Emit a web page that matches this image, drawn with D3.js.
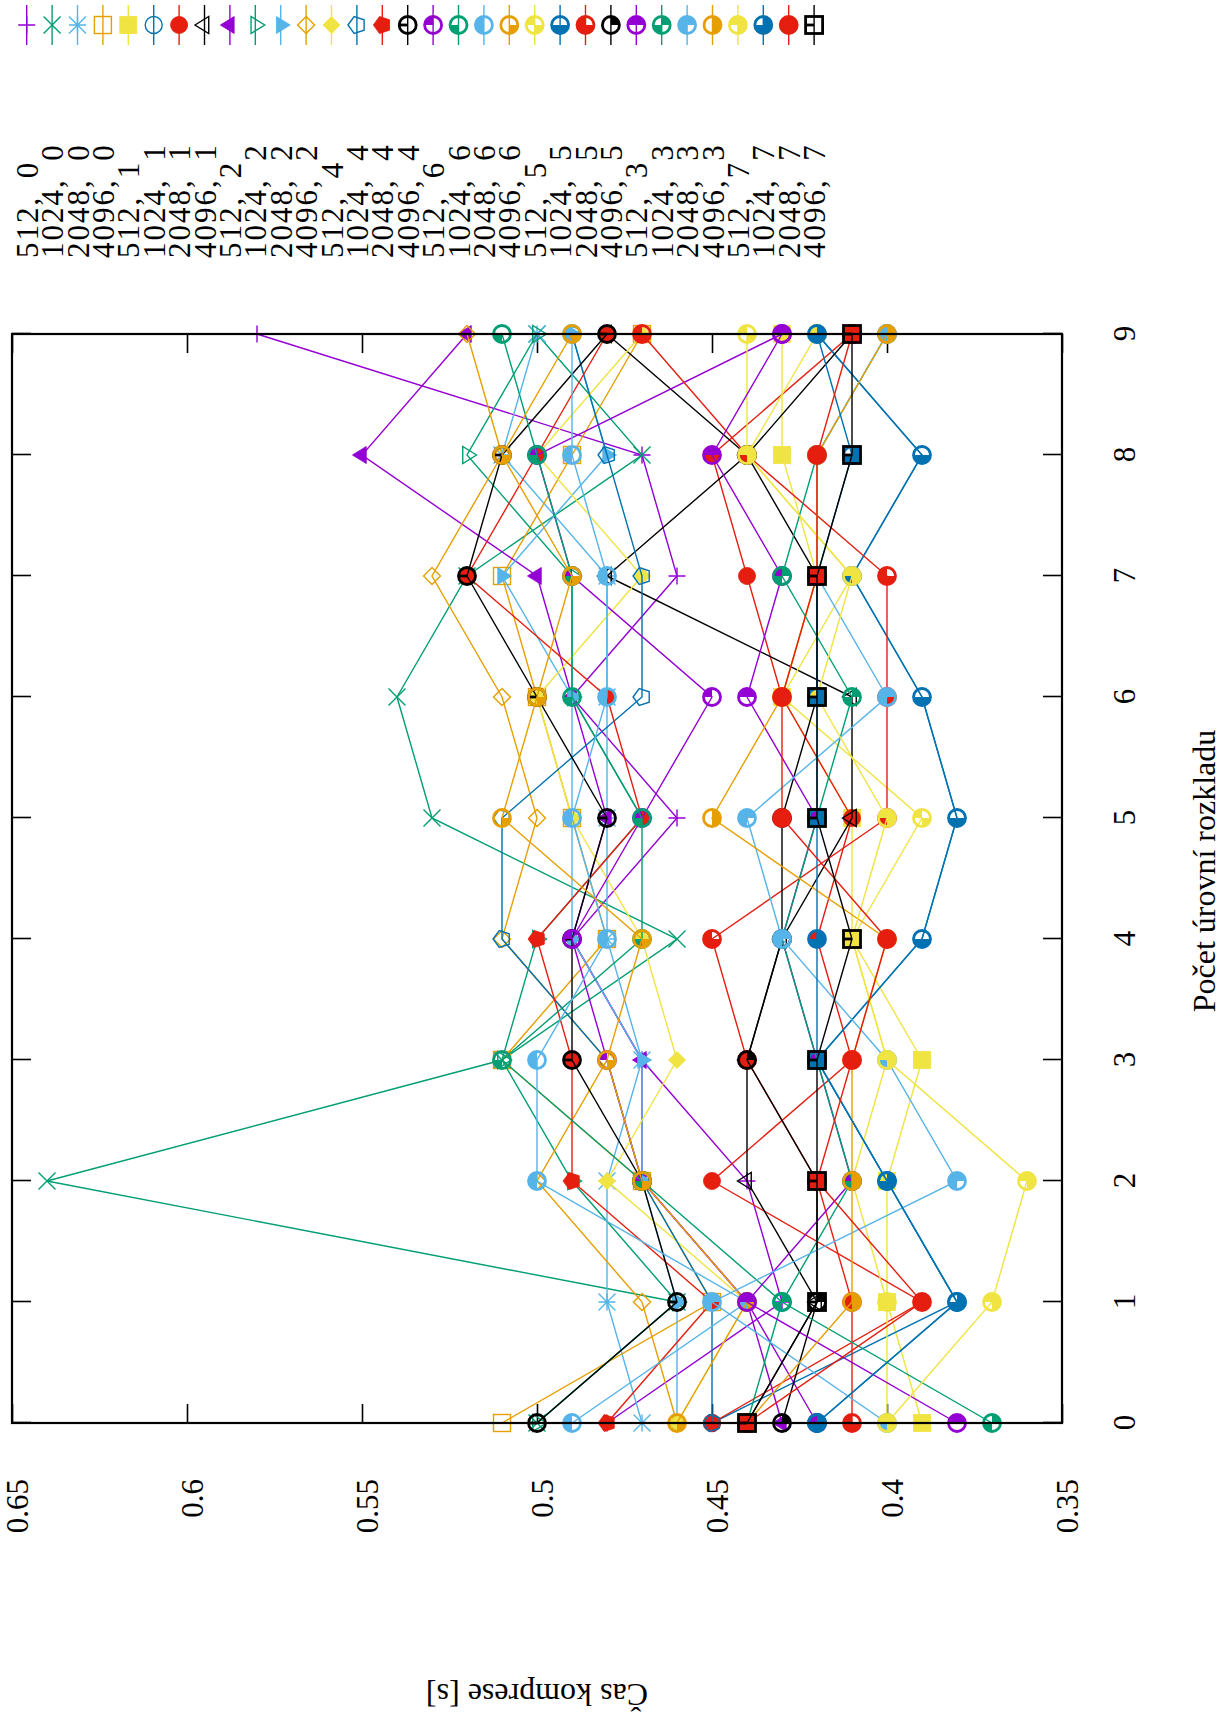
<!DOCTYPE html>
<html><head><meta charset="utf-8">
<script src="https://cdn.jsdelivr.net/npm/d3@7"></script>
<style>
body{margin:0;background:#fff}
svg{display:block}
text{font-family:"Liberation Serif","DejaVu Serif",serif;fill:#000}
</style>
</head><body>
<script>
// ---------- data ----------
const levels = [0,1,2,3,4,5,6,7,8,9];
const yTicks = [0.35,0.4,0.45,0.5,0.55,0.6,0.65];
const seriesNames = ["512, 0","1024, 0","2048, 0","4096, 0","512, 1","1024, 1","2048, 1","4096, 1",
  "512, 2","1024, 2","2048, 2","4096, 2","512, 4","1024, 4","2048, 4","4096, 4",
  "512, 6","1024, 6","2048, 6","4096, 6","512, 5","1024, 5","2048, 5","4096, 5",
  "512, 3","1024, 3","2048, 3","4096, 3","512, 7","1024, 7","2048, 7","4096, 7"];
const t512_0  = [0.48,0.43,0.44,0.47,0.49,0.46,0.49,0.46,0.47,0.58];
const t1024_0 = [0.50,0.46,0.64,0.51,0.46,0.53,0.54,0.52,0.47,0.50];
const t2048_0 = [0.47,0.48,0.48,0.47,0.48,0.48,0.48,0.48,0.51,0.50];
const t4096_0 = [0.51,0.45,0.47,0.51,0.48,0.49,0.50,0.51,0.49,0.47];
const t512_1  = [0.39,0.40,0.40,0.39,0.41,0.41,0.43,0.42,0.43,0.43];
const t1024_1 = [0.45,0.38,0.40,0.42,0.39,0.38,0.39,0.41,0.39,0.42];
const t2048_1 = [0.45,0.39,0.45,0.41,0.42,0.41,0.43,0.44,0.45,0.41];
const t4096_1 = [0.44,0.42,0.44,0.44,0.43,0.41,0.41,0.48,0.44,0.48];
const t512_2  = [0.43,0.44,0.47,0.47,0.49,0.48,0.49,0.50,0.55,0.52];
const t1024_2 = [0.50,0.46,0.49,0.51,0.50,0.47,0.49,0.49,0.52,0.50];
const t2048_2 = [0.46,0.46,0.47,0.47,0.49,0.49,0.49,0.51,0.48,0.49];
const t4096_2 = [0.46,0.47,0.50,0.48,0.51,0.50,0.51,0.53,0.51,0.52];
const t512_4  = [0.46,0.44,0.48,0.46,0.47,0.49,0.50,0.47,0.50,0.47];
const t1024_4 = [0.45,0.45,0.47,0.48,0.51,0.51,0.47,0.47,0.48,0.49];
const t2048_4 = [0.48,0.45,0.49,0.49,0.50,0.47,0.48,0.52,0.50,0.48];
const t4096_4 = [0.50,0.46,0.47,0.49,0.49,0.48,0.50,0.52,0.51,0.48];
const t512_6  = [0.42,0.44,0.47,0.48,0.49,0.47,0.45,0.49,0.50,0.43];
const t1024_6 = [0.44,0.43,0.47,0.51,0.47,0.47,0.49,0.49,0.50,0.51];
const t2048_6 = [0.49,0.44,0.50,0.50,0.48,0.49,0.48,0.48,0.49,0.49];
const t4096_6 = [0.46,0.44,0.47,0.48,0.47,0.51,0.50,0.49,0.51,0.49];
const t512_5  = [0.40,0.40,0.41,0.40,0.41,0.39,0.43,0.41,0.44,0.44];
const t1024_5 = [0.42,0.38,0.40,0.42,0.39,0.38,0.39,0.41,0.39,0.42];
const t2048_5 = [0.41,0.41,0.42,0.44,0.45,0.40,0.40,0.40,0.44,0.47];
const t4096_5 = [0.43,0.42,0.42,0.44,0.43,0.43,0.42,0.42,0.44,0.41];
const t512_3  = [0.38,0.44,0.41,0.42,0.43,0.42,0.44,0.43,0.45,0.43];
const t1024_3 = [0.37,0.43,0.41,0.42,0.43,0.42,0.41,0.43,0.42,0.40];
const t2048_3 = [0.40,0.45,0.38,0.40,0.43,0.44,0.40,0.42,0.42,0.40];
const t4096_3 = [0.44,0.41,0.41,0.41,0.40,0.45,0.43,0.42,0.42,0.40];
const t512_7  = [0.40,0.37,0.36,0.40,0.41,0.40,0.42,0.41,0.44,0.42];
const t1024_7 = [0.42,0.38,0.40,0.42,0.42,0.42,0.42,0.42,0.41,0.42];
const t2048_7 = [0.44,0.39,0.42,0.41,0.40,0.43,0.43,0.42,0.42,0.41];
const t4096_7 = [0.44,0.42,0.42,0.42,0.41,0.42,0.42,0.42,0.41,0.41];
const seriesValues = [t512_0,t1024_0,t2048_0,t4096_0,t512_1,t1024_1,t2048_1,t4096_1,
  t512_2,t1024_2,t2048_2,t4096_2,t512_4,t1024_4,t2048_4,t4096_4,
  t512_6,t1024_6,t2048_6,t4096_6,t512_5,t1024_5,t2048_5,t4096_5,
  t512_3,t1024_3,t2048_3,t4096_3,t512_7,t1024_7,t2048_7,t4096_7];
const palette = ["#9400D3","#009E73","#56B4E9","#E69F00","#F0E442","#0072B2","#E51E10","#000000"];

// ---------- layout (drawn in landscape, rotated -90deg) ----------
const W = 1223, H = 1724;
const FS = 32, TFS = 31, LW = 1.4, HP = 8.5;
const svg = d3.select("body").append("svg").attr("width", W).attr("height", H);
const g = svg.append("g").attr("transform", `translate(0,${H}) rotate(-90)`);

const x = d3.scaleLinear().domain([0, 9]).range([301, 1390]);
const y = d3.scaleLinear().domain([0.35, 0.65]).range([1062, 12]);

// axes
const axL = g.append("g").attr("transform", `translate(${x.range()[0]},0)`)
  .call(d3.axisLeft(y).tickValues(yTicks).tickFormat(d => String(d)).tickSizeInner(-19).tickSizeOuter(0).tickPadding(56));
const axR = g.append("g").attr("transform", `translate(${x.range()[1]},0)`)
  .call(d3.axisRight(y).tickValues(yTicks).tickFormat("").tickSizeInner(-19).tickSizeOuter(0));
const axB = g.append("g").attr("transform", `translate(0,${y.range()[0]})`)
  .call(d3.axisBottom(x).tickValues(levels).tickFormat(d => String(d)).tickSizeInner(-19).tickSizeOuter(0).tickPadding(51));
const axT = g.append("g").attr("transform", `translate(0,${y.range()[1]})`)
  .call(d3.axisTop(x).tickValues(levels).tickFormat("").tickSizeInner(-19).tickSizeOuter(0));
[axL, axR, axB, axT].forEach(a => {
  a.select(".domain").remove();
  a.selectAll(".tick line").attr("stroke", "#000").attr("stroke-width", 1.6);
  a.selectAll("text").attr("font-size", TFS).attr("font-family", "Liberation Serif");
});
axL.selectAll(".tick text").attr("y", 6);

// axis titles
g.append("text").attr("x", 853).attr("y", 1215).attr("text-anchor", "middle")
  .attr("font-size", FS).text("Počet úrovní rozkladu");
g.append("text").attr("transform", "translate(40,537) rotate(-90)").attr("text-anchor", "middle")
  .attr("font-size", FS).text("Čas komprese [s]");

// ---------- markers ----------
const arcQ = d3.arc().innerRadius(0).outerRadius(HP);
const quads = [[0, Math.PI/2], [3*Math.PI/2, 2*Math.PI], [Math.PI, 3*Math.PI/2], [Math.PI/2, Math.PI]];
function pent(r) {
  const p = [];
  for (let k = 0; k < 5; k++) { const a = -Math.PI/2 + k*2*Math.PI/5; p.push([r*Math.cos(a), r*Math.sin(a)]); }
  return "M" + p.map(q => q.join(",")).join("L") + "Z";
}
function drawMarker(sel, type, color) {
  const h = HP;
  const stroke = (s) => s.attr("fill", "none").attr("stroke", color).attr("stroke-width", LW);
  const fill = (s) => s.attr("fill", color).attr("stroke", color).attr("stroke-width", LW*0.6);
  if (type === 0) stroke(sel.append("path").attr("d", `M${-h},0H${h}M0,${-h}V${h}`));
  else if (type === 1) stroke(sel.append("path").attr("d", `M${-h},${-h}L${h},${h}M${-h},${h}L${h},${-h}`));
  else if (type === 2) stroke(sel.append("path").attr("d", `M${-h},0H${h}M0,${-h}V${h}M${-h},${-h}L${h},${h}M${-h},${h}L${h},${-h}`));
  else if (type === 3) stroke(sel.append("rect").attr("x", -h).attr("y", -h).attr("width", 2*h).attr("height", 2*h));
  else if (type === 4) fill(sel.append("rect").attr("x", -h).attr("y", -h).attr("width", 2*h).attr("height", 2*h));
  else if (type === 5) stroke(sel.append("circle").attr("r", h));
  else if (type === 6) fill(sel.append("circle").attr("r", h));
  else if (type === 7) stroke(sel.append("path").attr("d", `M0,${-1.12*h}L${h},${0.5*h}L${-h},${0.5*h}Z`));
  else if (type === 8) fill(sel.append("path").attr("d", `M0,${-1.12*h}L${h},${0.5*h}L${-h},${0.5*h}Z`));
  else if (type === 9) stroke(sel.append("path").attr("d", `M0,${1.12*h}L${h},${-0.5*h}L${-h},${-0.5*h}Z`));
  else if (type === 10) fill(sel.append("path").attr("d", `M0,${1.12*h}L${h},${-0.5*h}L${-h},${-0.5*h}Z`));
  else if (type === 11) stroke(sel.append("path").attr("d", `M0,${-h}L${h},0L0,${h}L${-h},0Z`));
  else if (type === 12) fill(sel.append("path").attr("d", `M0,${-h}L${h},0L0,${h}L${-h},0Z`));
  else if (type === 13) stroke(sel.append("path").attr("d", pent(h*1.05)));
  else if (type === 14) fill(sel.append("path").attr("d", pent(h*1.05)));
  else if (type >= 15 && type <= 30) {
    const n = type - 15;
    quads.forEach((q, b) => {
      if (n & (1 << b)) sel.append("path").attr("d", arcQ({startAngle: q[0], endAngle: q[1]})).attr("fill", color);
    });
    if (n === 0) sel.append("path").attr("d", `M0,0V${-h}`).attr("stroke", color).attr("stroke-width", LW*2);
    sel.append("circle").attr("r", h).attr("fill", "none").attr("stroke", color).attr("stroke-width", LW*2);
  } else {
    sel.append("path").attr("d", `M0,0V${-h}`).attr("stroke", color).attr("stroke-width", LW*2);
    sel.append("rect").attr("x", -h).attr("y", -h).attr("width", 2*h).attr("height", 2*h)
      .attr("fill", "none").attr("stroke", color).attr("stroke-width", LW*2);
  }
}

// ---------- series ----------
const line = d3.line().x((d, i) => x(levels[i])).y(d => y(d));
const plot = g.append("g");
seriesValues.forEach((vals, si) => {
  const color = palette[si % 8];
  const sg = plot.append("g");
  sg.append("path").attr("d", line(vals)).attr("fill", "none").attr("stroke", color).attr("stroke-width", LW);
  vals.forEach((v, i) => {
    drawMarker(sg.append("g").attr("transform", `translate(${x(levels[i])},${y(v)})`), si, color);
  });
});

// border on top
g.append("rect").attr("x", 301).attr("y", 12).attr("width", 1390 - 301).attr("height", 1062 - 12)
  .attr("fill", "none").attr("stroke", "#000").attr("stroke-width", 2.2);

// ---------- legend ----------
const legend = g.append("g");
seriesNames.forEach((name, si) => {
  const color = palette[si % 8];
  const ly = 26.7 + 25.4 * si;
  const eg = legend.append("g");
  eg.append("line").attr("x1", 1679).attr("x2", 1719).attr("y1", ly).attr("y2", ly)
    .attr("stroke", color).attr("stroke-width", LW);
  drawMarker(eg.append("g").attr("transform", `translate(1699,${ly})`), si, color);
  eg.append("text").attr("x", 1466).attr("y", ly + 11).attr("font-size", 31)
    .attr("letter-spacing", 2).text(name.replace(" ", "\u2002"));
});
</script>
</body></html>
